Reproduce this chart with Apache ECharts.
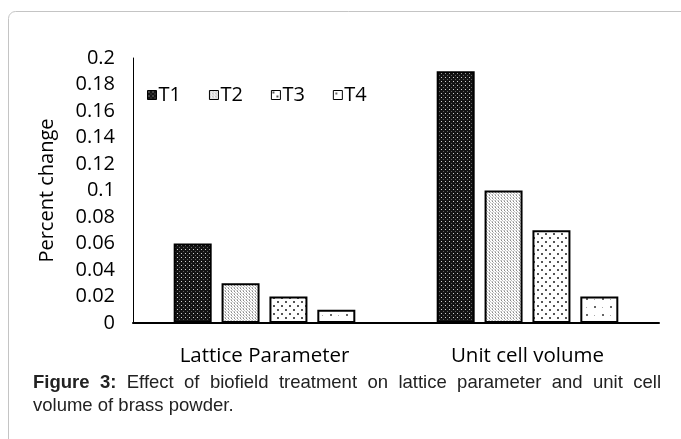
<!DOCTYPE html>
<html><head><meta charset="utf-8">
<script src="https://cdn.jsdelivr.net/npm/echarts@6/dist/echarts.min.js"></script>
<style>html,body{margin:0;padding:0;background:#fff}#c{width:681px;height:439px}</style>
</head><body><div id="c"></div>
<script>
var categories = ['Lattice Parameter', 'Unit cell volume'];
var seriesNames = ['T1', 'T2', 'T3', 'T4'];
var valuesT1 = [0.06, 0.19];
var valuesT2 = [0.03, 0.10];
var valuesT3 = [0.02, 0.07];
var valuesT4 = [0.01, 0.02];
var yTicks = { min: 0, max: 0.2, interval: 0.02 };
var captionLine1 = [['Figure', true], ['3:', true], ['Effect', false], ['of', false], ['biofield', false], ['treatment', false], ['on', false], ['lattice', false], ['parameter', false], ['and', false], ['unit', false], ['cell', false]];
var captionLine2 = 'volume of brass powder.';

function pattern(size, bg, dots) {
  var c = document.createElement('canvas');
  c.width = size; c.height = size;
  var g = c.getContext('2d');
  g.fillStyle = bg; g.fillRect(0, 0, size, size);
  dots.forEach(function (d) { g.fillStyle = d[3]; g.fillRect(d[0], d[1], d[2], d[2]); });
  return { image: c, repeat: 'repeat' };
}
var fills = [
  pattern(4, '#141414', [[1, 1, 1, '#d0d0d0'], [3, 3, 1, '#606060']]),
  pattern(3, '#ffffff', [[0, 0, 1, '#8a8a8a'], [1, 1, 1, '#bdbdbd'], [2, 2, 1, '#d0d0d0'], [0, 2, 1, '#c0c0c0']]),
  pattern(8, '#ffffff', [[1, 1, 2, '#555'], [5, 5, 2, '#555']]),
  pattern(16, '#ffffff', [[2, 2, 2, '#666'], [10, 10, 2, '#666'], [10, 3, 1, '#aaa'], [2, 11, 1, '#aaa']])
];
var seriesValues = [valuesT1, valuesT2, valuesT3, valuesT4];

var chart = echarts.init(document.getElementById('c'), null, { renderer: 'canvas' });

var capFont = '18.5px "Liberation Sans"';
var capBold = 'bold 18.5px "Liberation Sans"';
var mc = document.createElement('canvas').getContext('2d');
var capLeft = 33, capRight = 661;
var widths = captionLine1.map(function (w) { mc.font = w[1] ? capBold : capFont; return mc.measureText(w[0]).width; });
var totalW = widths.reduce(function (a, b) { return a + b; }, 0);
var gap = (capRight - capLeft - totalW) / (captionLine1.length - 1);
var graphics = [{
  type: 'rect', silent: true, z: -1,
  shape: { x: 8.5, y: 11.5, width: 720, height: 500, r: 7 },
  style: { fill: 'none', stroke: '#c4c4c4', lineWidth: 1 }
}];
var xPos = capLeft;
captionLine1.forEach(function (w, i) {
  graphics.push({ type: 'text', x: xPos, y: 383, style: { text: w[0], font: w[1] ? capBold : capFont, fill: '#222', verticalAlign: 'middle', align: 'left' } });
  xPos += widths[i] + gap;
});
graphics.push({ type: 'text', x: capLeft, y: 406, style: { text: captionLine2, font: capFont, fill: '#222', verticalAlign: 'middle', align: 'left' } });

chart.setOption({
  animation: false,
  grid: { left: 133, right: 22, top: 58, bottom: 116, containLabel: false },
  legend: {
    left: 142, top: 80, itemWidth: 9, itemHeight: 9, itemGap: 28,
    icon: 'rect',
    itemStyle: { borderWidth: 1, borderColor: '#000' },
    textStyle: { fontFamily: 'Open Sans', fontSize: 20, color: '#000', padding: [0, 0, 0, -3] },
    data: seriesNames
  },
  xAxis: {
    type: 'category', data: categories,
    axisLine: { lineStyle: { color: '#000', width: 2 } },
    axisTick: { show: false },
    axisLabel: { fontFamily: 'Open Sans', fontSize: 20.5, color: '#000', margin: 23 }
  },
  yAxis: {
    type: 'value', min: yTicks.min, max: yTicks.max, interval: yTicks.interval,
    name: 'Percent change', nameLocation: 'middle', nameGap: 76,
    nameTextStyle: { fontFamily: 'Open Sans', fontSize: 20, color: '#000' },
    axisLine: { show: true, lineStyle: { color: '#000', width: 1 } },
    axisTick: { show: false },
    splitLine: { show: false },
    axisLabel: { fontFamily: 'Open Sans', fontSize: 20, color: '#000', margin: 18,
      formatter: function (v) { return String(parseFloat(v.toFixed(2))); } }
  },
  series: seriesNames.map(function (n, i) {
    return {
      name: n, type: 'bar', data: seriesValues[i], barWidth: 38, barGap: '26%',
      itemStyle: { color: fills[i], borderColor: '#000', borderWidth: 2 }
    };
  }),
  graphic: graphics
});
</script></body></html>
